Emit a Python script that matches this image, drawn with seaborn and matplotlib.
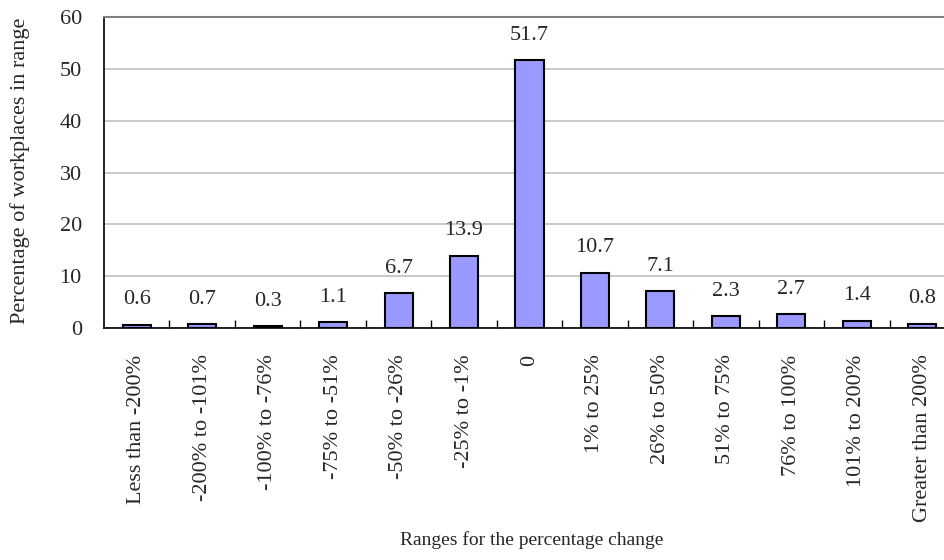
import matplotlib
matplotlib.use("Agg")
import matplotlib.pyplot as plt
import seaborn as sns
import numpy as np
import pandas as pd

categories = ["Less than -200%", "-200% to -101%", "-100% to -76%", "-75% to -51%",
              "-50% to -26%", "-25% to -1%", "0", "1% to 25%", "26% to 50%",
              "51% to 75%", "76% to 100%", "101% to 200%", "Greater than 200%"]
values = [0.6, 0.7, 0.3, 1.1, 6.7, 13.9, 51.7, 10.7, 7.1, 2.3, 2.7, 1.4, 0.8]
y_ticks = [0, 10, 20, 30, 40, 50, 60]

sns.set_theme(style="white")
plt.rcParams["font.family"] = ["Liberation Serif", "DejaVu Serif"]
plt.rcParams["font.size"] = 16

df = pd.DataFrame({"range": categories, "pct": values})

fig = plt.figure(figsize=(9.45, 5.6), dpi=100)
# axes run slightly past the right edge of the figure
ax = fig.add_axes([104 / 945, 1 - 328 / 560, (955 - 104) / 945, (328 - 17) / 560])

sns.barplot(data=df, x="range", y="pct", ax=ax, color="#9999FF",
            edgecolor="black", linewidth=1.5, width=0.43, saturation=1)

ax.set_ylim(0, 60)
ax.set_xlim(-0.5, len(categories) - 0.5)
ax.set_yticks(y_ticks)
ax.set_yticklabels([str(t) for t in y_ticks], fontsize=16)
ax.yaxis.grid(True, color="#C0C0C0", linewidth=1.2)
ax.set_axisbelow(True)

# category ticks on the boundaries, pointing inward
ax.set_xticks(np.arange(len(categories)))
ax.set_xticklabels(categories, rotation=90, fontsize=16, va="top", ha="center")
ax.tick_params(axis="x", which="major", length=0, pad=19)
ax.set_xticks(np.arange(len(categories) - 1) + 0.5, minor=True)
ax.tick_params(axis="x", which="minor", direction="in", length=6, width=1, color="black", bottom=True)
ax.tick_params(axis="y", length=0, pad=16)

for side in ["left", "bottom"]:
    ax.spines[side].set_color("black")
    ax.spines[side].set_linewidth(1.2)
ax.spines["top"].set_color("#808080")
ax.spines["top"].set_linewidth(1.5)
ax.spines["right"].set_visible(False)

for i, v in enumerate(values):
    ax.annotate(f"{v:.1f}", (i, v), xytext=(0, 25), textcoords="offset pixels",
                ha="center", va="center", fontsize=16)

ax.set_ylabel("")
ax.set_xlabel("")
fig.text(20 / 945, 1 - 171 / 560, "Percentage of workplaces in range",
         rotation=90, ha="center", va="center", fontsize=16)
fig.text(532 / 945, 1 - 540 / 560, "Ranges for the percentage change",
         ha="center", va="center", fontsize=14)

fig.savefig("out.png", dpi=100)
